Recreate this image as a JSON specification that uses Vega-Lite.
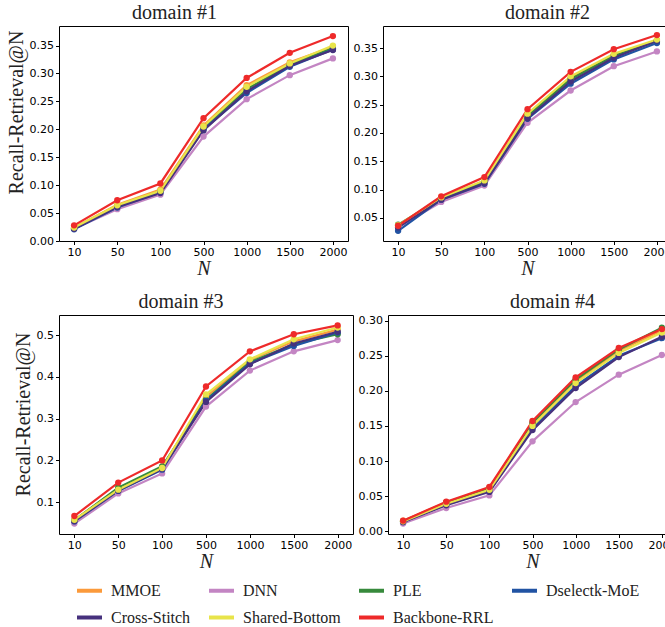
{
  "$schema": "https://vega.github.io/schema/vega-lite/v6.json",
  "padding": {"left": 5, "top": 2, "right": 0, "bottom": 0},
  "background": "white",
  "data": {"values": [
    {"d":1,"m":"MMOE","N":10,"v":0.024},{"d":1,"m":"MMOE","N":50,"v":0.065},{"d":1,"m":"MMOE","N":100,"v":0.092},{"d":1,"m":"MMOE","N":500,"v":0.207},{"d":1,"m":"MMOE","N":1000,"v":0.279},{"d":1,"m":"MMOE","N":1500,"v":0.320},{"d":1,"m":"MMOE","N":2000,"v":0.348},
    {"d":1,"m":"DNN","N":10,"v":0.022},{"d":1,"m":"DNN","N":50,"v":0.057},{"d":1,"m":"DNN","N":100,"v":0.083},{"d":1,"m":"DNN","N":500,"v":0.187},{"d":1,"m":"DNN","N":1000,"v":0.254},{"d":1,"m":"DNN","N":1500,"v":0.297},{"d":1,"m":"DNN","N":2000,"v":0.327},
    {"d":1,"m":"PLE","N":10,"v":0.023},{"d":1,"m":"PLE","N":50,"v":0.062},{"d":1,"m":"PLE","N":100,"v":0.089},{"d":1,"m":"PLE","N":500,"v":0.203},{"d":1,"m":"PLE","N":1000,"v":0.272},{"d":1,"m":"PLE","N":1500,"v":0.316},{"d":1,"m":"PLE","N":2000,"v":0.345},
    {"d":1,"m":"Dselectk-MoE","N":10,"v":0.021},{"d":1,"m":"Dselectk-MoE","N":50,"v":0.060},{"d":1,"m":"Dselectk-MoE","N":100,"v":0.087},{"d":1,"m":"Dselectk-MoE","N":500,"v":0.200},{"d":1,"m":"Dselectk-MoE","N":1000,"v":0.265},{"d":1,"m":"Dselectk-MoE","N":1500,"v":0.312},{"d":1,"m":"Dselectk-MoE","N":2000,"v":0.343},
    {"d":1,"m":"Cross-Stitch","N":10,"v":0.022},{"d":1,"m":"Cross-Stitch","N":50,"v":0.061},{"d":1,"m":"Cross-Stitch","N":100,"v":0.086},{"d":1,"m":"Cross-Stitch","N":500,"v":0.198},{"d":1,"m":"Cross-Stitch","N":1000,"v":0.268},{"d":1,"m":"Cross-Stitch","N":1500,"v":0.314},{"d":1,"m":"Cross-Stitch","N":2000,"v":0.342},
    {"d":1,"m":"Shared-Bottom","N":10,"v":0.024},{"d":1,"m":"Shared-Bottom","N":50,"v":0.064},{"d":1,"m":"Shared-Bottom","N":100,"v":0.090},{"d":1,"m":"Shared-Bottom","N":500,"v":0.205},{"d":1,"m":"Shared-Bottom","N":1000,"v":0.276},{"d":1,"m":"Shared-Bottom","N":1500,"v":0.318},{"d":1,"m":"Shared-Bottom","N":2000,"v":0.350},
    {"d":1,"m":"Backbone-RRL","N":10,"v":0.028},{"d":1,"m":"Backbone-RRL","N":50,"v":0.073},{"d":1,"m":"Backbone-RRL","N":100,"v":0.103},{"d":1,"m":"Backbone-RRL","N":500,"v":0.220},{"d":1,"m":"Backbone-RRL","N":1000,"v":0.292},{"d":1,"m":"Backbone-RRL","N":1500,"v":0.337},{"d":1,"m":"Backbone-RRL","N":2000,"v":0.367},

    {"d":2,"m":"MMOE","N":10,"v":0.036},{"d":2,"m":"MMOE","N":50,"v":0.085},{"d":2,"m":"MMOE","N":100,"v":0.115},{"d":2,"m":"MMOE","N":500,"v":0.232},{"d":2,"m":"MMOE","N":1000,"v":0.297},{"d":2,"m":"MMOE","N":1500,"v":0.338},{"d":2,"m":"MMOE","N":2000,"v":0.363},
    {"d":2,"m":"DNN","N":10,"v":0.033},{"d":2,"m":"DNN","N":50,"v":0.078},{"d":2,"m":"DNN","N":100,"v":0.107},{"d":2,"m":"DNN","N":500,"v":0.218},{"d":2,"m":"DNN","N":1000,"v":0.275},{"d":2,"m":"DNN","N":1500,"v":0.318},{"d":2,"m":"DNN","N":2000,"v":0.344},
    {"d":2,"m":"PLE","N":10,"v":0.038},{"d":2,"m":"PLE","N":50,"v":0.084},{"d":2,"m":"PLE","N":100,"v":0.114},{"d":2,"m":"PLE","N":500,"v":0.230},{"d":2,"m":"PLE","N":1000,"v":0.295},{"d":2,"m":"PLE","N":1500,"v":0.336},{"d":2,"m":"PLE","N":2000,"v":0.362},
    {"d":2,"m":"Dselectk-MoE","N":10,"v":0.027},{"d":2,"m":"Dselectk-MoE","N":50,"v":0.082},{"d":2,"m":"Dselectk-MoE","N":100,"v":0.110},{"d":2,"m":"Dselectk-MoE","N":500,"v":0.225},{"d":2,"m":"Dselectk-MoE","N":1000,"v":0.287},{"d":2,"m":"Dselectk-MoE","N":1500,"v":0.330},{"d":2,"m":"Dselectk-MoE","N":2000,"v":0.359},
    {"d":2,"m":"Cross-Stitch","N":10,"v":0.033},{"d":2,"m":"Cross-Stitch","N":50,"v":0.082},{"d":2,"m":"Cross-Stitch","N":100,"v":0.111},{"d":2,"m":"Cross-Stitch","N":500,"v":0.226},{"d":2,"m":"Cross-Stitch","N":1000,"v":0.291},{"d":2,"m":"Cross-Stitch","N":1500,"v":0.333},{"d":2,"m":"Cross-Stitch","N":2000,"v":0.363},
    {"d":2,"m":"Shared-Bottom","N":10,"v":0.037},{"d":2,"m":"Shared-Bottom","N":50,"v":0.086},{"d":2,"m":"Shared-Bottom","N":100,"v":0.116},{"d":2,"m":"Shared-Bottom","N":500,"v":0.234},{"d":2,"m":"Shared-Bottom","N":1000,"v":0.300},{"d":2,"m":"Shared-Bottom","N":1500,"v":0.340},{"d":2,"m":"Shared-Bottom","N":2000,"v":0.365},
    {"d":2,"m":"Backbone-RRL","N":10,"v":0.036},{"d":2,"m":"Backbone-RRL","N":50,"v":0.088},{"d":2,"m":"Backbone-RRL","N":100,"v":0.122},{"d":2,"m":"Backbone-RRL","N":500,"v":0.242},{"d":2,"m":"Backbone-RRL","N":1000,"v":0.308},{"d":2,"m":"Backbone-RRL","N":1500,"v":0.348},{"d":2,"m":"Backbone-RRL","N":2000,"v":0.373},

    {"d":3,"m":"MMOE","N":10,"v":0.057},{"d":3,"m":"MMOE","N":50,"v":0.132},{"d":3,"m":"MMOE","N":100,"v":0.183},{"d":3,"m":"MMOE","N":500,"v":0.352},{"d":3,"m":"MMOE","N":1000,"v":0.440},{"d":3,"m":"MMOE","N":1500,"v":0.485},{"d":3,"m":"MMOE","N":2000,"v":0.513},
    {"d":3,"m":"DNN","N":10,"v":0.049},{"d":3,"m":"DNN","N":50,"v":0.121},{"d":3,"m":"DNN","N":100,"v":0.169},{"d":3,"m":"DNN","N":500,"v":0.329},{"d":3,"m":"DNN","N":1000,"v":0.415},{"d":3,"m":"DNN","N":1500,"v":0.461},{"d":3,"m":"DNN","N":2000,"v":0.488},
    {"d":3,"m":"PLE","N":10,"v":0.057},{"d":3,"m":"PLE","N":50,"v":0.135},{"d":3,"m":"PLE","N":100,"v":0.186},{"d":3,"m":"PLE","N":500,"v":0.345},{"d":3,"m":"PLE","N":1000,"v":0.435},{"d":3,"m":"PLE","N":1500,"v":0.478},{"d":3,"m":"PLE","N":2000,"v":0.502},
    {"d":3,"m":"Dselectk-MoE","N":10,"v":0.054},{"d":3,"m":"Dselectk-MoE","N":50,"v":0.127},{"d":3,"m":"Dselectk-MoE","N":100,"v":0.178},{"d":3,"m":"Dselectk-MoE","N":500,"v":0.343},{"d":3,"m":"Dselectk-MoE","N":1000,"v":0.432},{"d":3,"m":"Dselectk-MoE","N":1500,"v":0.474},{"d":3,"m":"Dselectk-MoE","N":2000,"v":0.506},
    {"d":3,"m":"Cross-Stitch","N":10,"v":0.055},{"d":3,"m":"Cross-Stitch","N":50,"v":0.128},{"d":3,"m":"Cross-Stitch","N":100,"v":0.180},{"d":3,"m":"Cross-Stitch","N":500,"v":0.340},{"d":3,"m":"Cross-Stitch","N":1000,"v":0.430},{"d":3,"m":"Cross-Stitch","N":1500,"v":0.480},{"d":3,"m":"Cross-Stitch","N":2000,"v":0.508},
    {"d":3,"m":"Shared-Bottom","N":10,"v":0.058},{"d":3,"m":"Shared-Bottom","N":50,"v":0.130},{"d":3,"m":"Shared-Bottom","N":100,"v":0.182},{"d":3,"m":"Shared-Bottom","N":500,"v":0.358},{"d":3,"m":"Shared-Bottom","N":1000,"v":0.442},{"d":3,"m":"Shared-Bottom","N":1500,"v":0.490},{"d":3,"m":"Shared-Bottom","N":2000,"v":0.518},
    {"d":3,"m":"Backbone-RRL","N":10,"v":0.067},{"d":3,"m":"Backbone-RRL","N":50,"v":0.147},{"d":3,"m":"Backbone-RRL","N":100,"v":0.200},{"d":3,"m":"Backbone-RRL","N":500,"v":0.377},{"d":3,"m":"Backbone-RRL","N":1000,"v":0.461},{"d":3,"m":"Backbone-RRL","N":1500,"v":0.502},{"d":3,"m":"Backbone-RRL","N":2000,"v":0.523},

    {"d":4,"m":"MMOE","N":10,"v":0.015},{"d":4,"m":"MMOE","N":50,"v":0.041},{"d":4,"m":"MMOE","N":100,"v":0.062},{"d":4,"m":"MMOE","N":500,"v":0.153},{"d":4,"m":"MMOE","N":1000,"v":0.214},{"d":4,"m":"MMOE","N":1500,"v":0.257},{"d":4,"m":"MMOE","N":2000,"v":0.286},
    {"d":4,"m":"DNN","N":10,"v":0.011},{"d":4,"m":"DNN","N":50,"v":0.033},{"d":4,"m":"DNN","N":100,"v":0.051},{"d":4,"m":"DNN","N":500,"v":0.128},{"d":4,"m":"DNN","N":1000,"v":0.184},{"d":4,"m":"DNN","N":1500,"v":0.223},{"d":4,"m":"DNN","N":2000,"v":0.251},
    {"d":4,"m":"PLE","N":10,"v":0.014},{"d":4,"m":"PLE","N":50,"v":0.041},{"d":4,"m":"PLE","N":100,"v":0.061},{"d":4,"m":"PLE","N":500,"v":0.155},{"d":4,"m":"PLE","N":1000,"v":0.216},{"d":4,"m":"PLE","N":1500,"v":0.259},{"d":4,"m":"PLE","N":2000,"v":0.290},
    {"d":4,"m":"Dselectk-MoE","N":10,"v":0.013},{"d":4,"m":"Dselectk-MoE","N":50,"v":0.038},{"d":4,"m":"Dselectk-MoE","N":100,"v":0.057},{"d":4,"m":"Dselectk-MoE","N":500,"v":0.147},{"d":4,"m":"Dselectk-MoE","N":1000,"v":0.207},{"d":4,"m":"Dselectk-MoE","N":1500,"v":0.250},{"d":4,"m":"Dselectk-MoE","N":2000,"v":0.275},
    {"d":4,"m":"Cross-Stitch","N":10,"v":0.013},{"d":4,"m":"Cross-Stitch","N":50,"v":0.037},{"d":4,"m":"Cross-Stitch","N":100,"v":0.056},{"d":4,"m":"Cross-Stitch","N":500,"v":0.144},{"d":4,"m":"Cross-Stitch","N":1000,"v":0.204},{"d":4,"m":"Cross-Stitch","N":1500,"v":0.248},{"d":4,"m":"Cross-Stitch","N":2000,"v":0.277},
    {"d":4,"m":"Shared-Bottom","N":10,"v":0.014},{"d":4,"m":"Shared-Bottom","N":50,"v":0.039},{"d":4,"m":"Shared-Bottom","N":100,"v":0.059},{"d":4,"m":"Shared-Bottom","N":500,"v":0.150},{"d":4,"m":"Shared-Bottom","N":1000,"v":0.211},{"d":4,"m":"Shared-Bottom","N":1500,"v":0.254},{"d":4,"m":"Shared-Bottom","N":2000,"v":0.283},
    {"d":4,"m":"Backbone-RRL","N":10,"v":0.015},{"d":4,"m":"Backbone-RRL","N":50,"v":0.042},{"d":4,"m":"Backbone-RRL","N":100,"v":0.063},{"d":4,"m":"Backbone-RRL","N":500,"v":0.157},{"d":4,"m":"Backbone-RRL","N":1000,"v":0.219},{"d":4,"m":"Backbone-RRL","N":1500,"v":0.261},{"d":4,"m":"Backbone-RRL","N":2000,"v":0.288}
  ]},
  "config": {
    "view": {"stroke": "#000", "strokeWidth": 1},
    "axis": {"labelFont": "DejaVu Sans", "labelFontSize": 11, "labelColor": "#000", "tickColor": "#000", "tickSize": 3.5, "domain": false, "grid": false, "titleFont": "Liberation Serif", "titleFontSize": 20, "titleFontWeight": "normal", "titleColor": "#222", "labelOverlap": false},
    "axisX": {"titleFontStyle": "italic", "labelAngle": 0, "titlePadding": 1, "labelPadding": 2},
    "axisY": {"titlePadding": 3, "labelPadding": 2},
    "title": {"font": "Liberation Serif", "fontSize": 20, "fontWeight": "normal", "color": "#222", "offset": 3}
  },
  "vconcat": [
    {"hconcat": [
      {"title": {"text": "domain #1", "dx": -29}, "width": 289, "height": 215,
       "transform": [{"filter": "datum.d == 1"}],
       "encoding": {
         "x": {"field": "N", "type": "ordinal", "sort": [10,50,100,500,1000,1500,2000], "scale": {"type": "point", "padding": 0.35}, "axis": {"title": "N"}},
         "y": {"field": "v", "type": "quantitative", "scale": {"domain": [0, 0.385], "nice": false, "zero": false}, "axis": {"values": [0,0.05,0.1,0.15,0.2,0.25,0.3,0.35], "format": ".2f", "title": "Recall-Retrieval@N", "titleY": 86}},
         "color": {"field": "m", "type": "nominal", "scale": {"domain": ["MMOE","DNN","PLE","Dselectk-MoE","Cross-Stitch","Shared-Bottom","Backbone-RRL"], "range": ["#fb9a3b","#c385c3","#378a3c","#2153a3","#46317d","#e8e44a","#ee2a2a"]},
           "legend": {"title": null, "orient": "none", "legendX": 16, "legendY": 550, "direction": "horizontal", "columns": 4, "symbolType": "stroke", "symbolSize": 625, "symbolStrokeWidth": 4, "labelFont": "Liberation Serif", "labelFontSize": 16, "labelColor": "#222", "gridAlign": "each", "columnPadding": 10, "rowPadding": 4, "labelOffset": 7, "labelLimit": 200}}
       },
       "layer": [{"mark": {"type": "line", "strokeWidth": 2.2}}, {"mark": {"type": "circle", "size": 40, "opacity": 1}}]},
      {"title": {"text": "domain #2", "dx": 20}, "width": 289, "height": 215,
       "transform": [{"filter": "datum.d == 2"}],
       "encoding": {
         "x": {"field": "N", "type": "ordinal", "sort": [10,50,100,500,1000,1500,2000], "scale": {"type": "point", "padding": 0.35}, "axis": {"title": "N"}},
         "y": {"field": "v", "type": "quantitative", "scale": {"domain": [0.009, 0.389], "nice": false, "zero": false}, "axis": {"values": [0.05,0.1,0.15,0.2,0.25,0.3,0.35], "format": ".2f", "title": null}},
         "color": {"field": "m", "type": "nominal"}
       },
       "layer": [{"mark": {"type": "line", "strokeWidth": 2.2}}, {"mark": {"type": "circle", "size": 40, "opacity": 1}}]}
    ], "spacing": 3},
    {"hconcat": [
      {"title": {"text": "domain #3", "dx": -25}, "width": 294, "height": 219,
       "transform": [{"filter": "datum.d == 3"}],
       "encoding": {
         "x": {"field": "N", "type": "ordinal", "sort": [10,50,100,500,1000,1500,2000], "scale": {"type": "point", "padding": 0.35}, "axis": {"title": "N"}},
         "y": {"field": "v", "type": "quantitative", "scale": {"domain": [0.024, 0.548], "nice": false, "zero": false}, "axis": {"values": [0.1,0.2,0.3,0.4,0.5], "format": ".1f", "title": "Recall-Retrieval@N", "titleY": 99}},
         "color": {"field": "m", "type": "nominal"}
       },
       "layer": [{"mark": {"type": "line", "strokeWidth": 2.2}}, {"mark": {"type": "circle", "size": 40, "opacity": 1}}]},
      {"title": {"text": "domain #4", "dx": 20}, "width": 289, "height": 219,
       "transform": [{"filter": "datum.d == 4"}],
       "encoding": {
         "x": {"field": "N", "type": "ordinal", "sort": [10,50,100,500,1000,1500,2000], "scale": {"type": "point", "padding": 0.35}, "axis": {"title": "N"}},
         "y": {"field": "v", "type": "quantitative", "scale": {"domain": [-0.004, 0.308], "nice": false, "zero": false}, "axis": {"values": [0,0.05,0.1,0.15,0.2,0.25,0.3], "format": ".2f", "title": null}},
         "color": {"field": "m", "type": "nominal"}
       },
       "layer": [{"mark": {"type": "line", "strokeWidth": 2.2}}, {"mark": {"type": "circle", "size": 40, "opacity": 1}}]}
    ], "spacing": 3}
  ],
  "spacing": 12
}
